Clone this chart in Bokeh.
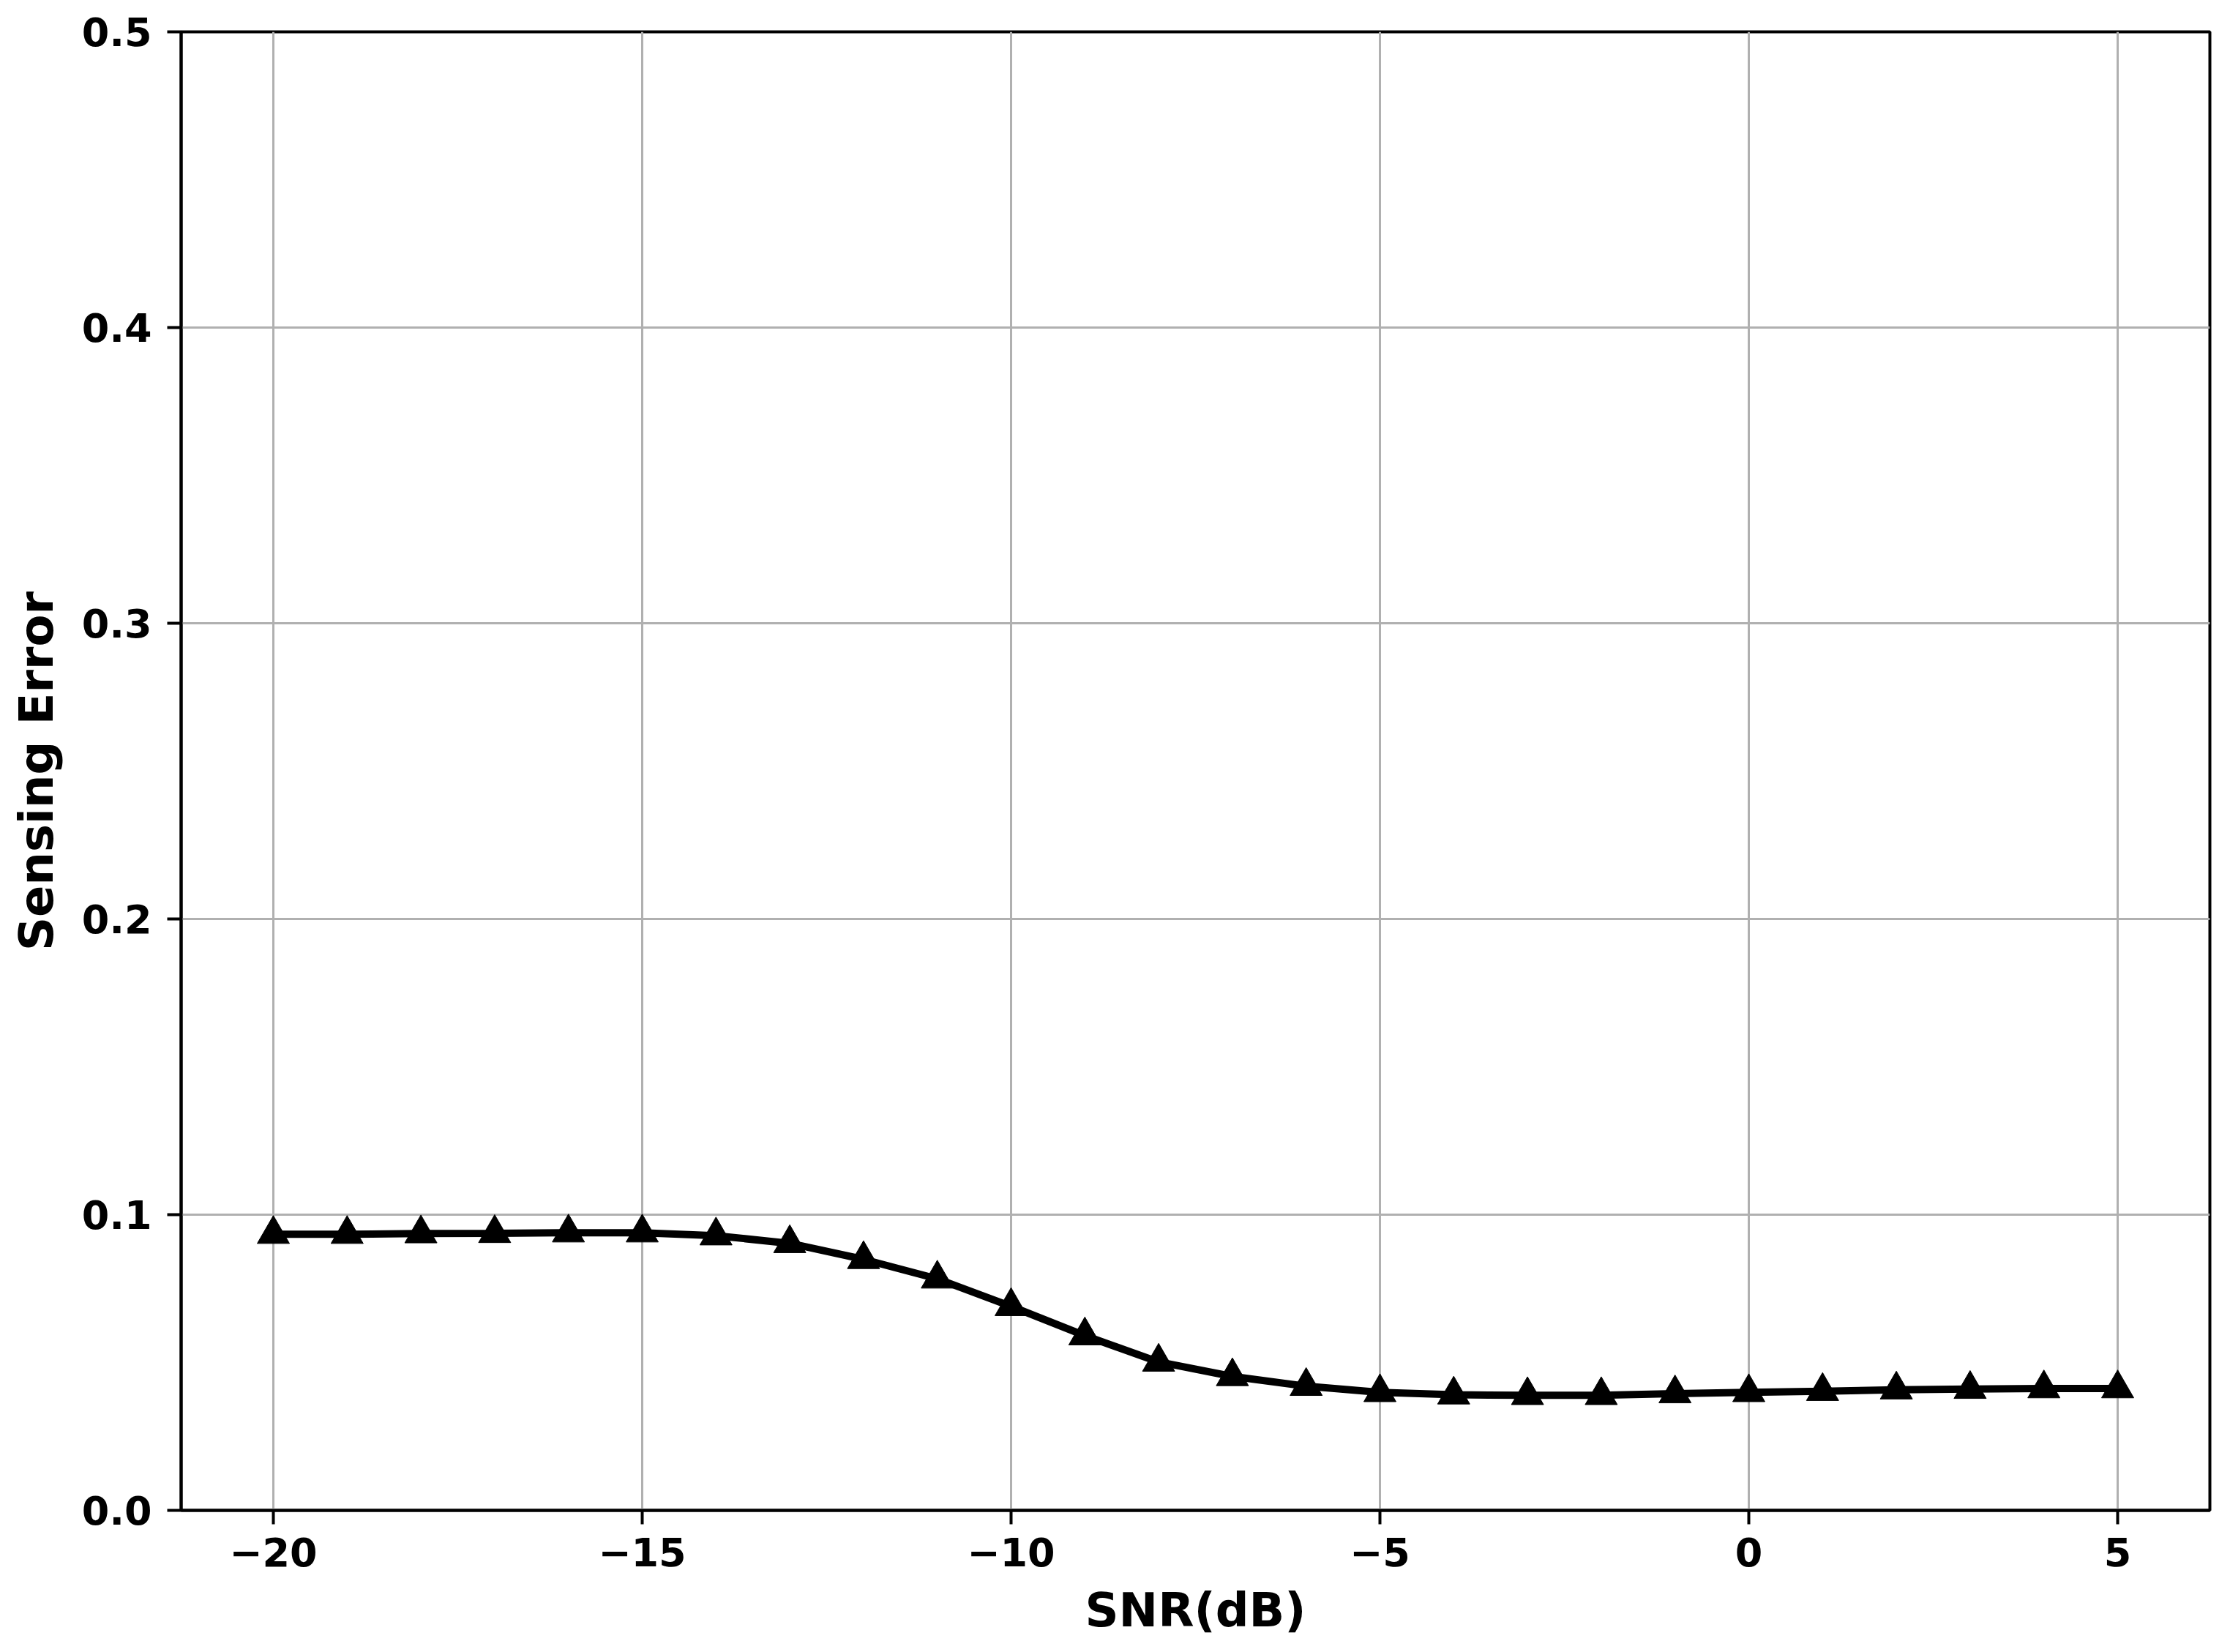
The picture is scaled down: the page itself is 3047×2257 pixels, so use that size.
from bokeh.plotting import figure
from bokeh.models import Range1d, FixedTicker
from bokeh.embed import file_html
from bokeh.resources import INLINE

snr = [-20, -19, -18, -17, -16, -15, -14, -13, -12, -11, -10, -9, -8, -7, -6,
       -5, -4, -3, -2, -1, 0, 1, 2, 3, 4, 5]
sensing_error = [0.0934, 0.0934, 0.0936, 0.0937, 0.0939, 0.0939, 0.0929, 0.0903,
                 0.0849, 0.0783, 0.0690, 0.0591, 0.0502, 0.0453, 0.0420,
                 0.0399, 0.0391, 0.0389, 0.0389, 0.0395, 0.0399, 0.0403,
                 0.0408, 0.0410, 0.0412, 0.0412]

x_ticks = [-20, -15, -10, -5, 0, 5]
x_tick_labels = ["\u221220", "\u221215", "\u221210", "\u22125", "0", "5"]
y_ticks = [0.0, 0.1, 0.2, 0.3, 0.4, 0.5]
y_tick_labels = ["0.0", "0.1", "0.2", "0.3", "0.4", "0.5"]

FONT = "DejaVu Sans"

p = figure(width=3040, height=2245, output_backend="svg", toolbar_location=None,
           x_range=Range1d(-21.25, 6.25), y_range=Range1d(0, 0.5),
           min_border_left=247, min_border_right=21, min_border_top=43,
           min_border_bottom=182)

p.background_fill_color = "white"
p.border_fill_color = "white"
p.outline_line_color = "black"
p.outline_line_width = 4

p.xaxis.ticker = FixedTicker(ticks=x_ticks)
p.yaxis.ticker = FixedTicker(ticks=y_ticks)
p.xaxis.major_label_overrides = dict(zip(x_ticks, x_tick_labels))
p.yaxis.major_label_overrides = dict(zip(y_ticks, y_tick_labels))

for ax in (p.xaxis, p.yaxis):
    ax.axis_line_color = "black"
    ax.axis_line_width = 4
    ax.major_tick_line_color = "black"
    ax.major_tick_line_width = 4
    ax.major_tick_out = 19
    ax.major_tick_in = 0
    ax.minor_tick_out = 0
    ax.minor_tick_in = 0
    ax.major_label_text_font = FONT
    ax.major_label_text_font_style = "bold"
    ax.major_label_text_font_size = "54px"
    ax.major_label_text_color = "black"
    ax.axis_label_text_font = FONT
    ax.axis_label_text_font_style = "bold"
    ax.axis_label_text_font_size = "64px"
    ax.axis_label_text_color = "black"

p.xaxis.axis_label = "SNR(dB)"
p.yaxis.axis_label = "Sensing Error"
p.xaxis.major_label_standoff = 18
p.yaxis.major_label_standoff = 21
p.xaxis.axis_label_standoff = 20
p.yaxis.axis_label_standoff = 22

p.xgrid.ticker = FixedTicker(ticks=x_ticks)
p.ygrid.ticker = FixedTicker(ticks=y_ticks)
for g in (p.xgrid, p.ygrid):
    g.grid_line_color = "#b0b0b0"
    g.grid_line_width = 3

p.line(snr, sensing_error, line_color="black", line_width=10)
p.scatter(snr, sensing_error, marker="triangle", size=44,
          fill_color="black", line_color="black")

open("out.html", "w").write(file_html(p, INLINE))
